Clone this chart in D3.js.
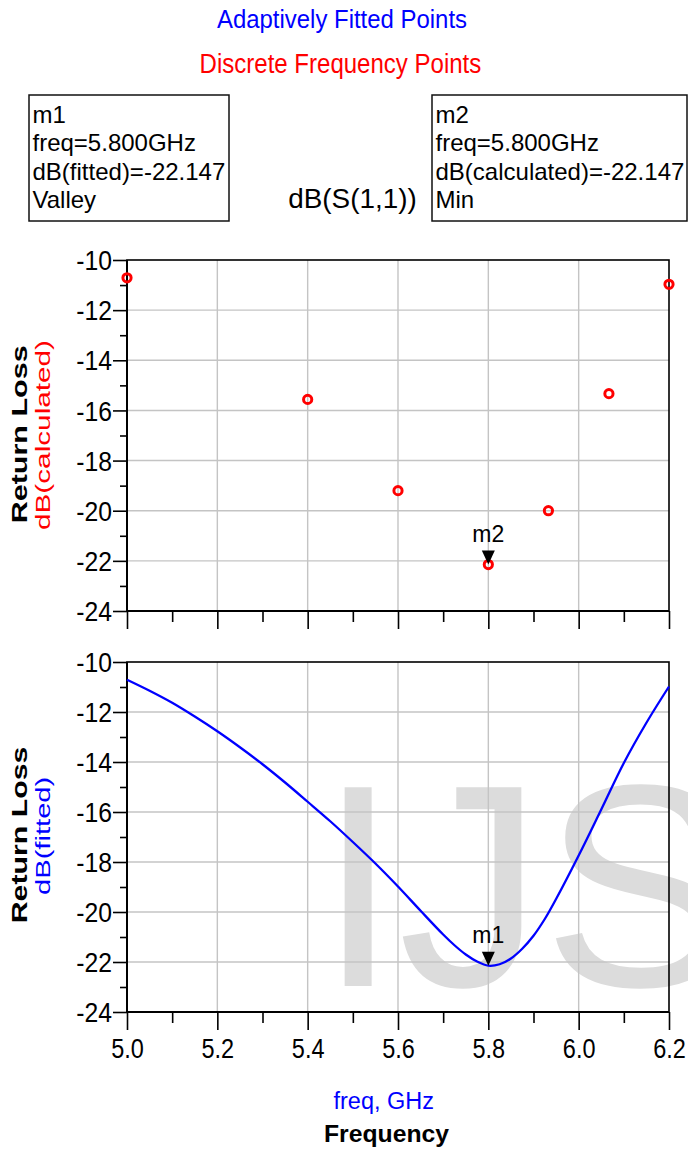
<!DOCTYPE html>
<html><head><meta charset="utf-8">
<script src="https://cdn.jsdelivr.net/npm/d3@7"></script>
<style>
body{margin:0;background:#fff}
svg{display:block}
text{font-family:"Liberation Sans",Arial,Helvetica,sans-serif}
</style>
</head><body>
<svg id="c" width="688" height="1152"></svg>
<script>
// ---- data ----
const fitFreq = [5.00,5.05,5.10,5.15,5.20,5.25,5.30,5.35,5.40,5.45,5.50,5.55,5.60,5.65,5.70,5.725,5.75,5.775,5.80,5.825,5.85,5.875,5.90,5.925,5.95,6.00,6.05,6.10,6.15,6.20];
const fitDb   = [-10.71,-11.15,-11.63,-12.18,-12.77,-13.41,-14.09,-14.82,-15.59,-16.37,-17.20,-18.06,-18.98,-19.95,-20.90,-21.33,-21.70,-21.98,-22.147,-22.09,-21.86,-21.47,-20.95,-20.28,-19.48,-17.74,-15.90,-14.04,-12.43,-10.98];
const calcFreq = [5.0,5.4,5.6,5.8,5.933,6.067,6.2];
const calcDb   = [-10.71,-15.56,-19.20,-22.147,-20.00,-15.33,-10.97];
const yMajor = [-24,-22,-20,-18,-16,-14,-12,-10];
const yMinor = [-23,-21,-19,-17,-15,-13,-11];
const xMajor = [5.0,5.2,5.4,5.6,5.8,6.0,6.2];
const xMinor = [5.1,5.3,5.5,5.7,5.9,6.1];
const xTickLabels = ["5.0","5.2","5.4","5.6","5.8","6.0","6.2"];
const markerNames = ["m1","m2"];
const markerFreq = [5.8,5.8];
const markerDb = [-22.147,-22.147];
const markerSeries = ["fitted","calculated"];
const markerKind = ["Valley","Min"];

// ---- setup ----
const svg = d3.select("#c");
svg.append("rect").attr("width",688).attr("height",1152).attr("fill","#fff");
const x = d3.scaleLinear().domain([5.0,6.2]).range([127,669]);
const yTop = d3.scaleLinear().domain([-24,-10]).range([611,260]);
const yBot = d3.scaleLinear().domain([-24,-10]).range([1012,662]);

function T(g, str, o){
  const t = g.append("text").text(str)
    .attr("transform", `translate(${o.x},${o.y})` + (o.rot ? ` rotate(${o.rot})` : ""))
    .attr("font-size", o.size)
    .attr("fill", o.color || "#000")
    .attr("text-anchor", o.anchor || "start")
    .attr("font-weight", o.weight || "normal");
  if (o.len) t.attr("textLength", o.len).attr("lengthAdjust","spacingAndGlyphs");
  return t;
}

// ---- titles ----
T(svg, "Adaptively Fitted Points", {x:217, y:28.3, size:26.5, len:250, color:"#0000ff"});
T(svg, "Discrete Frequency Points", {x:199.6, y:72.7, size:27, len:281.7, color:"#ff0000"});

// ---- marker boxes ----
const boxes = [{x:29,y:95,w:200,h:126},{x:432,y:95,w:255,h:126}];
markerNames.forEach((m,i)=>{
  const b = boxes[i];
  svg.append("rect").attr("x",b.x).attr("y",b.y).attr("width",b.w).attr("height",b.h)
    .attr("fill","none").attr("stroke","#111").attr("stroke-width",1.5);
  const lines = [m, `freq=${markerFreq[i].toFixed(3)}GHz`, `dB(${markerSeries[i]})=${markerDb[i].toFixed(3)}`, markerKind[i]];
  const base = [123.3,151,180,208.3];
  lines.forEach((s,j)=>T(svg, s, {x:b.x+3.5, y:base[j], size:24}));
});
T(svg, "dB(S(1,1))", {x:288.3, y:207.7, size:28, len:128.4});

// ---- panel drawing ----
function panel(y, top, bottom, showXLabels){
  const g = svg.append("g");
  g.selectAll(".gv").data(xMajor.slice(1,-1)).join("line")
    .attr("x1",d=>x(d)).attr("x2",d=>x(d)).attr("y1",top).attr("y2",bottom)
    .attr("stroke","#c4c4c4").attr("stroke-width",1.4);
  g.selectAll(".gh").data(yMajor.slice(1,-1)).join("line")
    .attr("y1",d=>y(d)).attr("y2",d=>y(d)).attr("x1",x.range()[0]).attr("x2",x.range()[1])
    .attr("stroke","#c4c4c4").attr("stroke-width",1.4);
  g.append("rect").attr("x",x.range()[0]).attr("y",top).attr("width",x.range()[1]-x.range()[0]).attr("height",bottom-top)
    .attr("fill","none").attr("stroke","#000").attr("stroke-width",1.6);
  g.append("line").attr("x1",x.range()[0]).attr("x2",x.range()[0]).attr("y1",top).attr("y2",bottom)
    .attr("stroke","#000").attr("stroke-width",2);
  g.append("line").attr("x1",x.range()[0]).attr("x2",x.range()[1]).attr("y1",bottom).attr("y2",bottom)
    .attr("stroke","#000").attr("stroke-width",2);

  const ya = g.append("g").attr("transform",`translate(${x.range()[0]},0)`)
    .call(d3.axisLeft(y).tickValues(yMajor).tickSize(14).tickSizeOuter(0).tickFormat(d3.format("d")));
  const ym = g.append("g").attr("transform",`translate(${x.range()[0]},0)`)
    .call(d3.axisLeft(y).tickValues(yMinor).tickSize(7).tickSizeOuter(0).tickFormat(""));
  [ya,ym].forEach(a=>{a.select(".domain").remove(); a.selectAll("line").attr("stroke","#000").attr("stroke-width",1.6);});
  ya.selectAll("text").attr("x",null).attr("dy",null)
    .attr("transform","translate(-15,9.6) scale(0.915,1)")
    .attr("font-size",27).attr("font-family","'Liberation Sans',Arial,sans-serif").attr("fill","#000")
    .text(d=>d3.format("d")(d).replace("\u2212","-"));

  const xa = g.append("g").attr("transform",`translate(0,${bottom})`)
    .call(d3.axisBottom(x).tickValues(xMajor).tickSize(18).tickSizeOuter(0).tickFormat((d,i)=>showXLabels?xTickLabels[i]:""));
  const xm = g.append("g").attr("transform",`translate(0,${bottom})`)
    .call(d3.axisBottom(x).tickValues(xMinor).tickSize(11).tickSizeOuter(0).tickFormat(""));
  [xa,xm].forEach(a=>{a.select(".domain").remove(); a.selectAll("line").attr("stroke","#000").attr("stroke-width",1.6);});
  xa.selectAll("text").attr("y",null).attr("dy",null)
    .attr("transform",`translate(0,${1058.3-1012}) scale(0.84,1)`)
    .attr("font-size",28).attr("font-family","'Liberation Sans',Arial,sans-serif").attr("fill","#000");
  return g;
}

// watermark (behind lower panel grid)
T(svg, "IJS", {x:318, y:986, size:289, color:"#dcdcdc"});

const gTop = panel(yTop, 260, 611, false);
const gBot = panel(yBot, 662, 1012, true);

// ---- series ----
const fitData = fitFreq.map((f,i)=>({f, v:fitDb[i]}));
gBot.append("path").datum(fitData)
  .attr("d", d3.line().x(d=>x(d.f)).y(d=>yBot(d.v)).curve(d3.curveCatmullRom.alpha(0.5)))
  .attr("fill","none").attr("stroke","#0000ff").attr("stroke-width",2.3);

const calcData = calcFreq.map((f,i)=>({f, v:calcDb[i]}));
gTop.selectAll(".pt").data(calcData).join("circle")
  .attr("cx",d=>x(d.f)).attr("cy",d=>yTop(d.v)).attr("r",4.1)
  .attr("fill","none").attr("stroke","#ff0000").attr("stroke-width",3);

// ---- markers ----
const mScales = [yBot, yTop];
const mGroups = [gBot, gTop];
markerNames.forEach((m,i)=>{
  const px = x(markerFreq[i]), py = mScales[i](markerDb[i]);
  mGroups[i].append("path")
    .attr("d", `M${px-6.5},${py-14}L${px+6.5},${py-14}L${px},${py}Z`)
    .attr("fill","#000");
  T(mGroups[i], m, {x:px, y:py-22.5, size:23, anchor:"middle"});
});

// ---- axis titles ----
T(svg, "Return Loss", {x:26.7, y:523.3, rot:-90, size:22, weight:"bold", len:178});
T(svg, "dB(calculated)", {x:49.7, y:530, rot:-90, size:20.2, color:"#ff0000", len:190});
T(svg, "Return Loss", {x:26.7, y:923.3, rot:-90, size:22, weight:"bold", len:176.7});
T(svg, "dB(fitted)", {x:49.7, y:895, rot:-90, size:20.2, color:"#0000ff", len:118.3});
T(svg, "freq, GHz", {x:333.5, y:1109.3, size:23.3, len:100.5, color:"#0000ff"});
T(svg, "Frequency", {x:324, y:1142, size:23, weight:"bold", len:125});
</script>
</body></html>
